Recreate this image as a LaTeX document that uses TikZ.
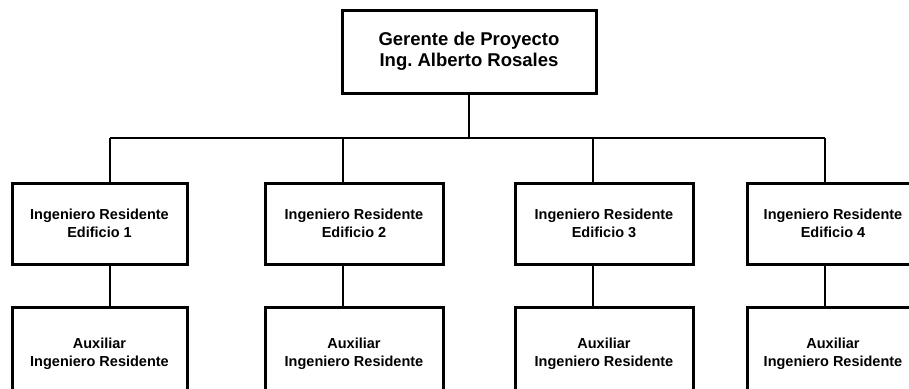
\documentclass[tikz,border=0pt]{standalone}
\usepackage{fontspec}
\setmainfont{Liberation Sans}
\frenchspacing
\begin{document}
\begin{tikzpicture}[x=1pt,y=-1pt,
  box/.style={draw=black,line width=3pt,fill=white,inner sep=0pt,align=center,font=\bfseries\fontsize{14.5}{17.5}\selectfont},
  topbox/.style={box,font=\bfseries\fontsize{18.5}{20.5}\selectfont},
  conn/.style={draw=black,line width=2pt}]
\useasboundingbox (0,0) rectangle (909,388);
\begin{scope}
\clip (0,0) rectangle (909,388);
\node[topbox,minimum width=254pt,minimum height=83pt] (top) at (469,51.5) {Gerente de Proyecto\\Ing.\ Alberto Rosales};
\node[box,minimum width=175pt,minimum height=81pt] (b1) at (99.5,223.5) {Ingeniero Residente\\Edificio 1};
\node[box,minimum width=178pt,minimum height=81pt] (b2) at (354,223.5) {Ingeniero Residente\\Edificio 2};
\node[box,minimum width=178pt,minimum height=81pt] (b3) at (604,223.5) {Ingeniero Residente\\Edificio 3};
\node[box,minimum width=172pt,minimum height=81pt] (b4) at (833,223.5) {Ingeniero Residente\\Edificio 4};
\node[box,minimum width=175pt,minimum height=94pt] (a1) at (99.5,354) {Auxiliar\\Ingeniero Residente};
\node[box,minimum width=178pt,minimum height=94pt] (a2) at (354,354) {Auxiliar\\Ingeniero Residente};
\node[box,minimum width=178pt,minimum height=94pt] (a3) at (604,354) {Auxiliar\\Ingeniero Residente};
\node[box,minimum width=172pt,minimum height=94pt] (a4) at (833,354) {Auxiliar\\Ingeniero Residente};
\coordinate (c1) at (110,138);
\coordinate (c2) at (343,138);
\coordinate (c3) at (593,138);
\coordinate (c4) at (825,138);
\draw[conn] (top.south) -- (top.south |- c1);
\draw[conn] (c1) -- (c4);
\foreach \i in {1,2,3,4}{
  \draw[conn] (c\i) -- (c\i |- b\i.north);
  \draw[conn] (c\i |- b\i.south) -- (c\i |- a\i.north);
}
\end{scope}
\end{tikzpicture}
\end{document}
